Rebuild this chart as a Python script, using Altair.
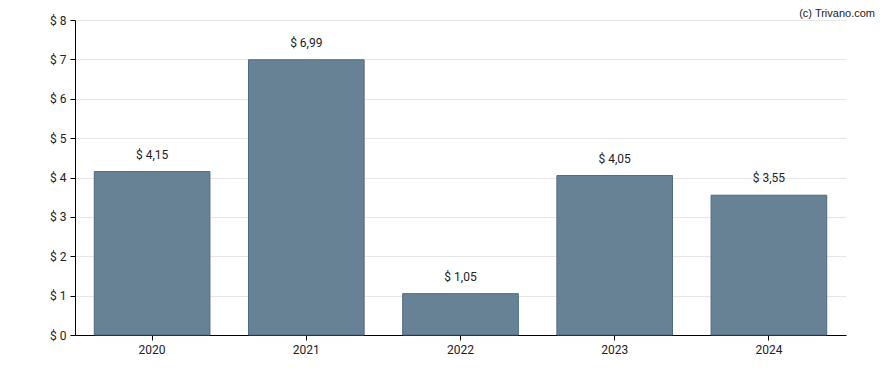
import altair as alt
import pandas as pd

years = ["2020", "2021", "2022", "2023", "2024"]
values = [4.15, 6.99, 1.05, 4.05, 3.55]
labels = ["$ " + f"{v:.2f}".replace(".", ",") for v in values]

df = pd.DataFrame({"year": years, "value": values, "label": labels})

x = alt.X("year:N", title=None,
          scale=alt.Scale(paddingInner=0.25, paddingOuter=0.125),
          axis=alt.Axis(labelAngle=0, domainColor="#000", tickColor="#000", tickSize=5,
                        labelFont="Roboto", labelFontSize=12, labelColor="#222", labelPadding=4,
                        grid=False))
y = alt.Y("value:Q", title=None,
          scale=alt.Scale(domain=[0, 8], nice=False),
          axis=alt.Axis(values=list(range(0, 9)), labelExpr="'$ ' + datum.value",
                        domainColor="#000", tickColor="#000", tickSize=5,
                        gridColor="#e6e6e6", labelFont="Roboto", labelFontSize=12,
                        labelColor="#222", labelPadding=4))

bars = alt.Chart(df).mark_bar(color="#678294", stroke="#4d6a80", strokeWidth=1).encode(x=x, y=y)
text = alt.Chart(df).mark_text(dy=-17, font="Roboto", fontSize=12, color="#222").encode(
    x=x, y=y, text="label:N")
credit = alt.Chart(pd.DataFrame({"t": ["(c) Trivano.com"]})).mark_text(
    align="right", baseline="middle", font="Liberation Sans", fontSize=11, color="#222"
).encode(x=alt.value(800), y=alt.value(-6), text="t:N")

chart = alt.layer(bars, text, credit).properties(
    width=771, height=315,
    autosize=alt.AutoSizeParams(type="none"),
    padding={"left": 67, "top": 12, "right": 30, "bottom": 26},
).configure_view(stroke=None)

chart.save("out.html", embed_options={"renderer": "svg", "actions": False})
